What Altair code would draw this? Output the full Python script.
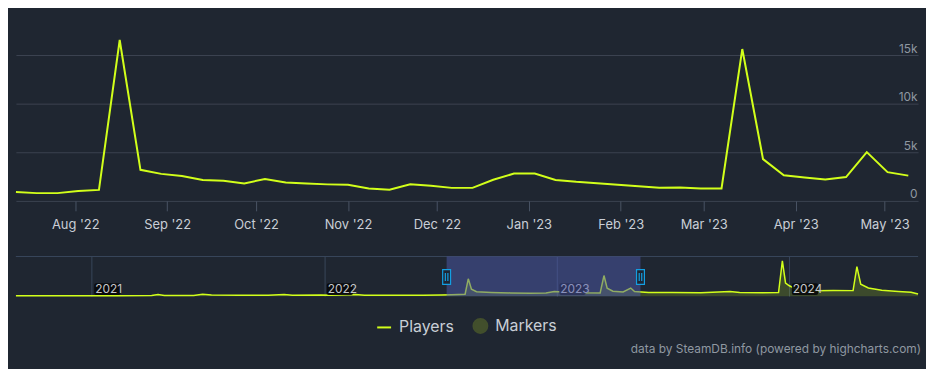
import altair as alt
import pandas as pd

# ---------------- data ----------------
main_start = "2022-07-12"
players = [920, 800, 800, 1030, 1130, 16550, 3200, 2780, 2560, 2150, 2070, 1800,
           2250, 1900, 1780, 1700, 1650, 1270, 1140, 1710, 1550, 1340, 1340, 2180,
           2810, 2810, 2160, 1960, 1820, 1660, 1500, 1350, 1380, 1270, 1280, 15620,
           4300, 2640, 2400, 2200, 2450, 5020, 2960, 2600]
main_dates = pd.date_range(main_start, periods=len(players), freq="7D")

nav_dates = ["2020-09-04", "2020-10-20", "2020-12-10", "2021-02-10", "2021-04-05", "2021-04-15",
             "2021-04-25", "2021-06-10", "2021-06-24", "2021-07-08", "2021-08-20", "2021-10-05",
             "2021-10-30", "2021-11-12", "2021-12-27", "2022-01-12", "2022-02-19", "2022-03-05",
             "2022-04-20", "2022-06-05", "2022-07-03", "2022-07-20", "2022-08-10", "2022-08-15",
             "2022-08-20", "2022-08-28", "2022-09-20", "2022-10-20", "2022-11-20", "2022-12-15",
             "2022-12-28", "2023-01-10", "2023-02-10", "2023-03-10", "2023-03-16", "2023-03-21",
             "2023-03-30", "2023-04-15", "2023-04-27", "2023-05-03", "2023-05-25", "2023-07-01",
             "2023-08-15", "2023-09-30", "2023-10-15", "2023-11-20", "2023-12-15", "2023-12-21",
             "2023-12-26", "2024-01-01", "2024-01-16", "2024-02-10", "2024-03-10", "2024-04-10",
             "2024-04-16", "2024-04-22", "2024-05-04", "2024-05-25", "2024-06-20", "2024-07-10",
             "2024-07-21"]
nav_values = [400, 450, 500, 550, 600, 1600,
              700, 800, 1900, 1100, 950, 1000,
              1700, 1000, 1300, 900, 1600, 1000,
              850, 900, 1300, 1500, 2000, 17500,
              7000, 4500, 3800, 3300, 3000, 3300,
              4800, 4200, 3400, 3200, 20800, 8000,
              5000, 4200, 8200, 4600, 3800, 3600,
              3500, 4600, 3600, 3400, 3600, 35500,
              13200, 10500, 5800, 5500, 5700, 5600,
              29800, 12000, 8200, 6000, 4800, 4000,
              2200]

year_dates = ["2021-01-01", "2022-01-01", "2023-01-01", "2024-01-01"]
year_labels = ["2021", "2022", "2023", "2024"]

series_names = ["Players", "Markers"]
credits = "data by SteamDB.info (powered by highcharts.com)"

# ---------------- style ----------------
BG = "#1f2631"
LINE = "#d2ff1a"
MARKER = "#424f2c"
GRID = "#3b4351"
NAVGRID = "#37465b"
TICK = "#4a5465"
XLAB = "#c9ced6"
YLAB = "#8f98a1"
FONT = "Inter"

main_df = pd.DataFrame({"date": main_dates, "players": players})
marker_df = pd.DataFrame({"date": pd.to_datetime([]), "players": [], "series": []})
nav_df = pd.DataFrame({"date": pd.to_datetime(nav_dates), "v": nav_values})
year_df = pd.DataFrame({"date": pd.to_datetime(year_dates), "label": year_labels})
sel_df = pd.DataFrame({"start": [pd.Timestamp("2022-07-12")], "end": [pd.Timestamp("2023-05-12 07:00")]})
handle_df = pd.DataFrame({"date": [pd.Timestamp("2022-07-12"), pd.Timestamp("2023-05-12 07:00")]})

main_domain = [alt.DateTime(year=2022, month=7, date=12),
               alt.DateTime(year=2023, month=5, date=12, hours=7)]
nav_domain = [alt.DateTime(year=2020, month=9, date=4),
              alt.DateTime(year=2024, month=7, date=21)]

# ---------------- main chart ----------------
mx_scale = alt.Scale(domain=main_domain)
my_scale = alt.Scale(domain=[0, 19700], nice=False)
mx_axis = alt.Axis(title=None, format="%b '%y", tickCount={"interval": "month", "step": 1},
                   grid=False, domain=False, ticks=True, tickSize=10, tickColor=TICK,
                   labelColor=XLAB, labelFontSize=13, labelPadding=8,
                   labelFlush=False, labelOverlap=False, minExtent=0)
my_axis = alt.Axis(orient="right", title=None, values=[0, 5000, 10000, 15000],
                   labelExpr="datum.value === 0 ? '0' : (datum.value / 1000) + 'k'",
                   grid=True, gridColor=GRID, domain=False, ticks=False,
                   labelAlign="right", labelBaseline="alphabetic", labelPadding=-1,
                   labelOffset=-3, labelColor=YLAB, labelFontSize=12, minExtent=0)

legend = alt.Legend(
    title=None, orient="none", legendX=363, legendY=311, direction="horizontal",
    symbolSize=196, symbolStrokeWidth=2, symbolOpacity=1, labelFontSize=16, labelColor=XLAB,
    labelFont=FONT, labelOffset=7, columnPadding=15, padding=0,
)

line = alt.Chart(main_df).mark_line(strokeWidth=2, color=LINE).encode(
    x=alt.X("date:T", scale=mx_scale, axis=mx_axis),
    y=alt.Y("players:Q", scale=my_scale, axis=my_axis),
)

markers = alt.Chart(marker_df).mark_point(filled=True, opacity=1, strokeWidth=2).encode(
    x=alt.X("date:T", scale=mx_scale, axis=mx_axis),
    y=alt.Y("players:Q", scale=my_scale, axis=my_axis),
    color=alt.Color("series:N", scale=alt.Scale(domain=series_names, range=["transparent", MARKER]),
                    legend=legend),
    stroke=alt.Stroke("series:N", scale=alt.Scale(domain=series_names, range=[LINE, MARKER]),
                      legend=legend),
    shape=alt.Shape("series:N", scale=alt.Scale(domain=series_names, range=["stroke", "circle"]),
                    legend=legend),
)

main = alt.layer(line, markers).properties(width=909, height=193)

# ---------------- navigator ----------------
nx_scale = alt.Scale(domain=nav_domain)
ny_scale = alt.Scale(domain=[0, 40000], nice=False)
nx_axis = alt.Axis(title=None, grid=True, gridColor=NAVGRID, labels=False, ticks=False,
                   domain=False, tickCount={"interval": "year", "step": 1}, minExtent=0)

nav_area = alt.Chart(nav_df).mark_area(
    color=LINE, fillOpacity=0.17,
    line={"color": LINE, "strokeWidth": 1.5},
).encode(
    x=alt.X("date:T", scale=nx_scale, axis=nx_axis),
    y=alt.Y("v:Q", scale=ny_scale, axis=None),
)

nav_top = alt.Chart(year_df).mark_rule(color=NAVGRID, strokeWidth=1).encode(
    y=alt.YDatum(40000, scale=ny_scale),
)

year_box = alt.Chart(year_df).mark_rect(xOffset=2.5, x2Offset=29, color="#07080a", opacity=0.9,
                                        cornerRadius=2).encode(
    x=alt.X("date:T", scale=nx_scale, axis=nx_axis),
    x2=alt.X2("date:T"),
    y=alt.YDatum(1300, scale=ny_scale),
    y2=alt.Y2Datum(13000),
)

year_text = alt.Chart(year_df).mark_text(align="left", baseline="middle", dx=3.5, fontSize=12,
                                         color="#c4c6ca", font=FONT).encode(
    x=alt.X("date:T", scale=nx_scale, axis=nx_axis),
    y=alt.YDatum(7000, scale=ny_scale),
    text="label:N",
)

mask = alt.Chart(sel_df).mark_rect(color="#4d5aab", opacity=0.5).encode(
    x=alt.X("start:T", scale=nx_scale, axis=nx_axis),
    x2="end:T",
)

handle_path = "M-0.53,-1H0.53V1H-0.53Z M-0.17,-0.55V0.55 M0.17,-0.55V0.55"
handles = alt.Chart(handle_df).mark_point(shape=handle_path, size=225, filled=True,
                                          fill="#1f2634", stroke="#139fe2", strokeWidth=1.2,
                                          opacity=1).encode(
    x=alt.X("date:T", scale=nx_scale, axis=nx_axis),
    y=alt.YDatum(19300, scale=ny_scale),
)

nav = alt.layer(nav_area, nav_top, year_box, year_text, mask, handles).properties(width=909, height=40)

chart = alt.vconcat(main, nav, spacing=56, bounds="flush").properties(
    title=alt.TitleParams(credits, orient="bottom", anchor="end", fontSize=12,
                          fontWeight="normal", color=YLAB, font=FONT, offset=7),
    padding={"left": 4, "top": 0, "right": 5, "bottom": 13},
).configure(background=BG, font=FONT).configure_view(strokeWidth=0)

chart.save("out.html", embed_options={"renderer": "svg", "actions": False})
